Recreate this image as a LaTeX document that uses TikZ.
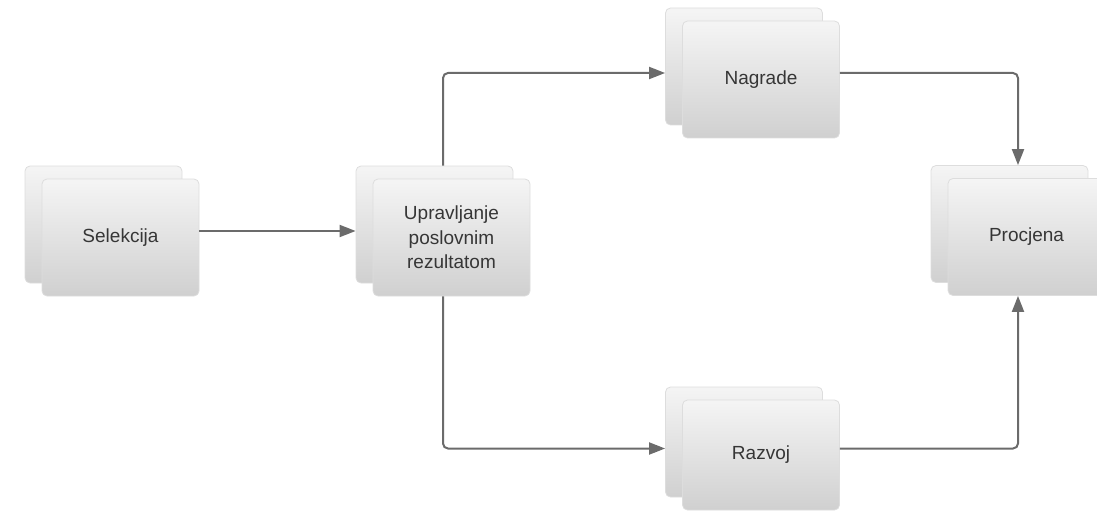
\documentclass[tikz,border=0pt]{standalone}
\usepackage{fontspec}
\setmainfont{Liberation Sans}
\usepackage{xcolor}
\usepackage{tikz}
\usetikzlibrary{arrows.meta, positioning, backgrounds, calc}
\definecolor{linegray}{HTML}{6B6B6B}
\definecolor{textgray}{HTML}{363636}
\definecolor{edgegray}{HTML}{DDDDDD}
\tikzset{
  card/.style={
    rectangle, rounded corners=5pt,
    minimum width=157pt, minimum height=117pt,
    text centered, align=center, draw=edgegray, line width=0.8pt,
    top color=gray!8, bottom color=gray!37,
    text=textgray, font=\fontsize{19}{24.5}\selectfont,
  },
  backcard/.style={card},
  arrow/.style={-{Triangle[length=16pt, width=12pt]}, line width=2pt,
    color=linegray, rounded corners=5pt},
}

\begin{document}
\begin{tikzpicture}[x=1pt,y=-1pt]
  \useasboundingbox (0,0) rectangle (1097,516);
  % front cards
  \node[card] (sel) at (120.5,237.5) {Selekcija};
  \node[card] (upr) at (451.5,237.5) {Upravljanje\\poslovnim\\rezultatom};
  \node[card] (nag) at (761,79.5) {Nagrade};
  \node[card,minimum height=110pt] (raz) at (761,455) {Razvoj};
  \node[card] (pro) at (1026.5,237) {Procjena};
  % copies behind
  \begin{scope}[on background layer]
    \node[backcard] (selb) at ($(sel)+(-17,-13)$) {};
    \node[backcard] (uprb) at ($(upr)+(-17,-13)$) {};
    \node[backcard] (nagb) at ($(nag)+(-17,-13)$) {};
    \node[backcard,minimum height=110pt] (razb) at ($(raz)+(-17,-13)$) {};
    \node[backcard] (prob) at ($(pro)+(-17,-13)$) {};
  \end{scope}
  \coordinate (sel-m) at ($(sel)!.5!(selb)$);
  \coordinate (upr-m) at ($(upr)!.5!(uprb)$);
  \coordinate (nag-m) at ($(nag)!.5!(nagb)$);
  \coordinate (raz-m) at ($(raz)!.5!(razb)$);
  \coordinate (pro-m) at ($(pro)!.5!(prob)$);
  % connectors
  \draw[arrow] (sel-m -| sel.east) -- (sel-m -| uprb.west);
  \draw[arrow] (upr-m |- uprb.north) |- (nag-m -| nagb.west);
  \draw[arrow] (upr-m |- upr.south) |- (raz-m -| razb.west);
  \draw[arrow] (nag-m -| nag.east) -| (pro-m |- prob.north);
  \draw[arrow] (raz-m -| raz.east) -| (pro-m |- pro.south);
\end{tikzpicture}
\end{document}
